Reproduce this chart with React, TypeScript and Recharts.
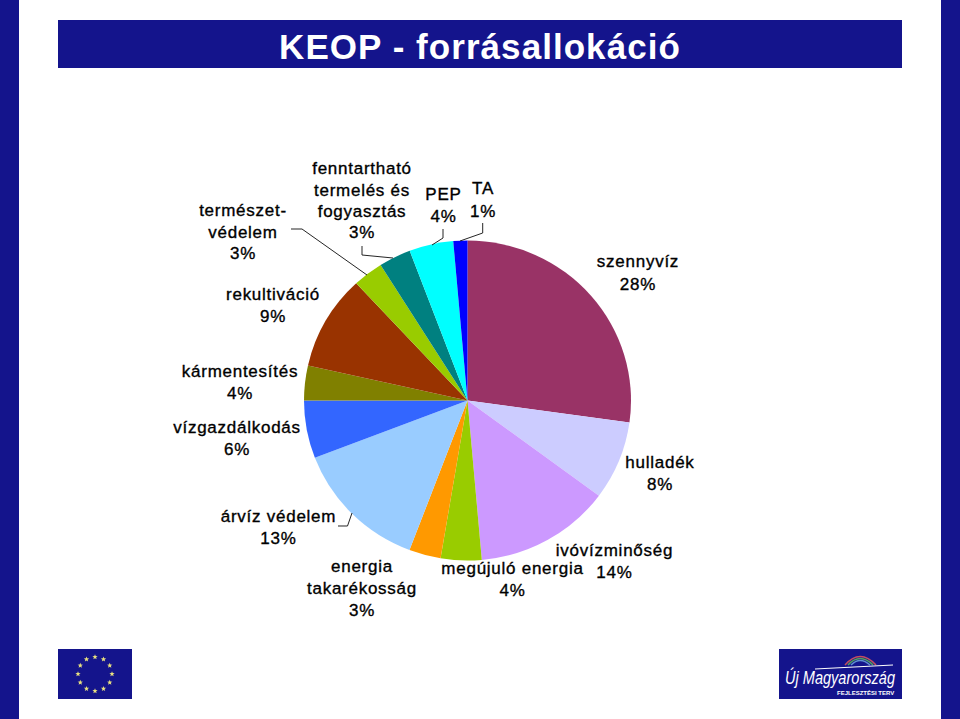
import React from "react";
import { PieChart, Pie, Cell } from "recharts";

const categories = ["szennyvíz","hulladék","ivóvízminőség","megújuló energia","energia takarékosság","árvíz védelem","vízgazdálkodás","kármentesítés","rekultiváció","természetvédelem","fenntartható termelés és fogyasztás","PEP","TA"];
const values = [27.2,7.94,13.47,4.03,3.14,13.39,5.83,3.53,9.56,3.0,3.17,4.36,1.39];
const colors = ["#993366","#CCCCFF","#CC99FF","#99CC00","#FF9900","#99CCFF","#3366FF","#808000","#993300","#99CC00","#008080","#00FFFF","#0000FF"];
const labelLines = [
  ["szennyvíz","28%"],["hulladék","8%"],["ivóvízminőség","14%"],["megújuló energia","4%"],
  ["energia","takarékosság","3%"],["árvíz védelem","13%"],["vízgazdálkodás","6%"],["kármentesítés","4%"],
  ["rekultiváció","9%"],["természet-","védelem","3%"],["fenntartható","termelés és","fogyasztás","3%"],["PEP","4%"],["TA","1%"],
];
// label centre x and first-line centre y, per slice
const labelAnchor: [number, number, number][] = [
  [638,261.8,22.5],[660,462.8,22],[614.5,550.8,22],[512.5,568.8,22],[362,566.8,22],[278.5,516.8,22],[237,427.8,22],[240,371.8,22],[273,294.8,22],[243,210.8,21.5],[362,168.8,21.3],[443.5,194.8,22],[483,188.8,23],
];
const leaders: Record<number, [number, number][]> = {
  5: [[338,526],[347.5,526],[352,513]],
  9: [[291,229],[302,229],[367,275]],
  10: [[362,246],[362,255],[393,258]],
  11: [[443,229],[443,238],[432,245]],
  12: [[482.7,223],[482.7,233],[460,241]],
};
const data = categories.map((name, i) => ({ name, value: values[i] }));
const BLUE = "#14148C";
const FONT = "'Liberation Sans', Arial, sans-serif";
// The reference pie is slightly flattened: the chart layer is squeezed vertically about its centre.
const CY = 400.5;
const SQUEEZE = 160 / 163.5;
const unsqueeze = (y: number) => CY + (y - CY) / SQUEEZE;

const renderLabel = (p: any) => {
  const i = p.index;
  const [x, y, dy] = labelAnchor[i];
  return (
    <text key={i} fontFamily={FONT} fontSize={17} fill="#000" stroke="#000" strokeWidth={0.35} letterSpacing={0.75} textAnchor="middle">
      {labelLines[i].map((t, k) => (
        <tspan key={k} x={x} y={unsqueeze(y + k * dy)} dominantBaseline="central">{t}</tspan>
      ))}
    </text>
  );
};
const renderLine = (p: any) =>
  leaders[p.index] ? (
    <polyline key={p.index} points={leaders[p.index].map(([x, y]) => `${x},${unsqueeze(y)}`).join(" ")} fill="none" stroke="#222" strokeWidth={1} />
  ) : (
    <g key={p.index} />
  );

const stars = Array.from({ length: 12 }, (_, i) => i);
const starPts = (cx: number, cy: number, r: number) =>
  Array.from({ length: 10 }, (_, k) => {
    const a = -Math.PI / 2 + (k * Math.PI) / 5;
    const rr = k % 2 ? r * 0.42 : r;
    return `${cx + rr * Math.cos(a)},${cy + rr * Math.sin(a)}`;
  }).join(" ");

const Box = (s: React.CSSProperties) => <div style={{ position: "absolute", background: BLUE, ...s }} />;

export default function App() {
  return (
    <div style={{ position: "absolute", left: 0, top: 0, width: 960, height: 719, background: "#fff", overflow: "hidden" }}>
      <Box left={0} top={0} width={19} height={719} />
      <Box left={941} top={0} width={19} height={719} />
      <div style={{ position: "absolute", left: 58, top: 20, width: 844, height: 48, background: BLUE, color: "#fff", fontFamily: FONT, fontWeight: 700, fontSize: 35, lineHeight: "54px", textAlign: "center", letterSpacing: 1.05 }}>
        KEOP - forrásallokáció
      </div>
      <svg style={{ position: "absolute", left: 0, top: 0 }} width={960} height={719}>
        <rect x={58} y={649} width={74} height={50} fill={BLUE} />
        {stars.map((i) => {
          const a = (i * Math.PI) / 6;
          return <polygon key={i} points={starPts(95 + 17 * Math.sin(a), 674 - 17 * Math.cos(a), 2.8)} fill="#E8E080" />;
        })}
        <rect x={779} y={649} width={123} height={50} fill={BLUE} />
        <path d="M845 665 Q860 648 876 665" fill="none" stroke="#C05060" strokeWidth={1.5} />
        <path d="M848 665 Q860 652 873 665" fill="none" stroke="#50A060" strokeWidth={1.5} />
        <path d="M851 665 Q860 656 870 665" fill="none" stroke="#6090D0" strokeWidth={1.5} />
        <path d="M815 669 L893 665" stroke="#fff" strokeWidth={1} />
        <text x={785} y={684} fontFamily={FONT} fontStyle="italic" fontSize={19} fill="#fff" textLength={110} lengthAdjust="spacingAndGlyphs">Új Magyarország</text>
        <text x={837} y={695} fontFamily={FONT} fontWeight={700} fontSize={6} fill="#fff">FEJLESZTÉSI TERV</text>
      </svg>
      <div style={{ position: "absolute", left: 0, top: 0, transform: `scaleY(${SQUEEZE})`, transformOrigin: `0 ${CY}px` }}>
        <PieChart width={960} height={719} margin={{ top: 0, right: 0, bottom: 0, left: 0 }}>
          <Pie data={data} dataKey="value" nameKey="name" cx={467.5} cy={CY} outerRadius={163.5} startAngle={90} endAngle={-270} stroke="none" isAnimationActive={false} label={renderLabel} labelLine={renderLine}>
            {data.map((d, i) => <Cell key={d.name} fill={colors[i]} />)}
          </Pie>
        </PieChart>
      </div>
    </div>
  );
}
